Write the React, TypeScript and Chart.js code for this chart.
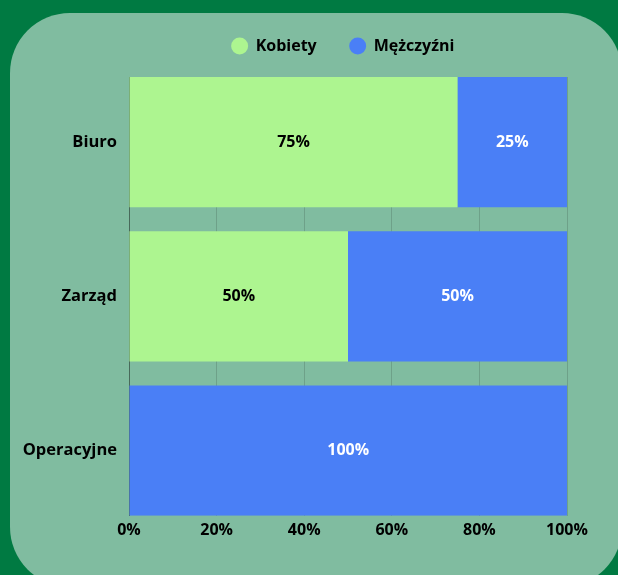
import React, { useEffect, useRef } from "react";
import { Chart, registerables } from "chart.js";

Chart.register(...registerables);

const categories = ["Biuro", "Zarząd", "Operacyjne"];
const kobiety = [75, 50, 0];
const mezczyzni = [25, 50, 100];
const xTicks = [0, 20, 40, 60, 80, 100];

const FONT = "'Open Sans', sans-serif";

const labelPlugin = {
  id: "barLabels",
  afterDatasetsDraw(chart: any) {
    const ctx = chart.ctx;
    ctx.save();
    ctx.font = `700 16px ${FONT}`;
    ctx.textAlign = "center";
    ctx.textBaseline = "middle";
    chart.data.datasets.forEach((ds: any, di: number) => {
      const meta = chart.getDatasetMeta(di);
      meta.data.forEach((el: any, i: number) => {
        const v = ds.data[i].x;
        if (!v) return;
        const c = el.getCenterPoint();
        ctx.fillStyle = ds.labelColor;
        ctx.fillText(v + "%", c.x, c.y);
      });
    });
    ctx.restore();
  },
};

const legendSpacer = {
  id: "legendSpacer",
  beforeInit(chart: any) {
    const lg = chart.legend;
    const origFit = lg.fit;
    lg.fit = function () {
      origFit.bind(this)();
      this.height += 13;
    };
    const origDraw = lg.draw;
    lg.draw = function (...args: any[]) {
      const ctx = this.ctx;
      ctx.save();
      ctx.translate(-5, 0);
      origDraw.apply(this, args);
      ctx.restore();
    };
  },
};

export default function App() {
  const ref = useRef<HTMLCanvasElement>(null);
  useEffect(() => {
    document.body.style.margin = "0";
    const chart = new Chart(ref.current!, {
      type: "bar",
      data: {
        datasets: [
          {
            label: "Kobiety",
            data: kobiety.map((v, i) => ({ x: v, y: i })),
            backgroundColor: "#adf590",
            borderWidth: 0,
            labelColor: "#000000",
          } as any,
          {
            label: "Mężczyźni",
            data: mezczyzni.map((v, i) => ({ x: v, y: i })),
            backgroundColor: "#4a7ff6",
            borderWidth: 0,
            labelColor: "#ffffff",
          } as any,
        ],
      },
      options: {
        indexAxis: "y",
        animation: false,
        responsive: false,
        maintainAspectRatio: false,
        events: [],
        datasets: { bar: { barPercentage: 0.8442, categoryPercentage: 1 } },
        layout: { padding: { left: 22, right: 51, top: 5, bottom: 30 } },
        plugins: {
          tooltip: { enabled: false },
          legend: {
            position: "top",
            fullSize: false,
            labels: {
              usePointStyle: true,
              pointStyle: "circle",
              boxWidth: 16,
              boxHeight: 12,
              padding: 33,
              color: "#000000",
              font: { family: FONT, size: 16, weight: "700" },
            },
          },
        },
        scales: {
          x: {
            type: "linear",
            stacked: true,
            min: 0,
            max: 100,
            bounds: "data",
            afterBuildTicks: (s: any) => {
              s.ticks = xTicks.map((v) => ({ value: v }));
            },
            ticks: {
              padding: 5,
              color: "#000000",
              font: { family: FONT, size: 16, weight: "700" },
              callback: (v: any) => v + "%",
            },
            grid: { color: "rgba(0,0,0,0.14)", drawTicks: false },
            border: { display: false },
          },
          y: {
            type: "linear",
            stacked: true,
            reverse: true,
            bounds: "data",
            offset: false,
            min: -65 / 154,
            max: 2 + 65 / 154,
            afterBuildTicks: (s: any) => {
              s.ticks = categories.map((_, i) => ({ value: i }));
            },
            afterFit: (s: any) => {
              s.width = 107;
            },
            ticks: {
              padding: 12,
              color: "#000000",
              font: { family: FONT, size: 16.5, weight: "700" },
              callback: (v: any) => categories[v] ?? "",
            },
            grid: { display: false, drawTicks: false },
            border: { display: true, color: "rgba(0,0,0,0.35)", width: 1 },
          },
        },
      } as any,
      plugins: [labelPlugin, legendSpacer],
    });
    return () => chart.destroy();
  }, []);

  return (
    <div
      style={{
        position: "fixed",
        left: 0,
        top: 0,
        width: 618,
        height: 575,
        background: "#007a42",
        overflow: "hidden",
      }}
    >
      <div
        style={{
          position: "absolute",
          left: 10,
          top: 13,
          width: 612,
          height: 574,
          borderRadius: 60,
          background: "#80bca0",
        }}
      />
      <canvas
        ref={ref}
        width={618}
        height={575}
        style={{ position: "absolute", left: 0, top: 0, width: 618, height: 575 }}
      />
    </div>
  );
}
